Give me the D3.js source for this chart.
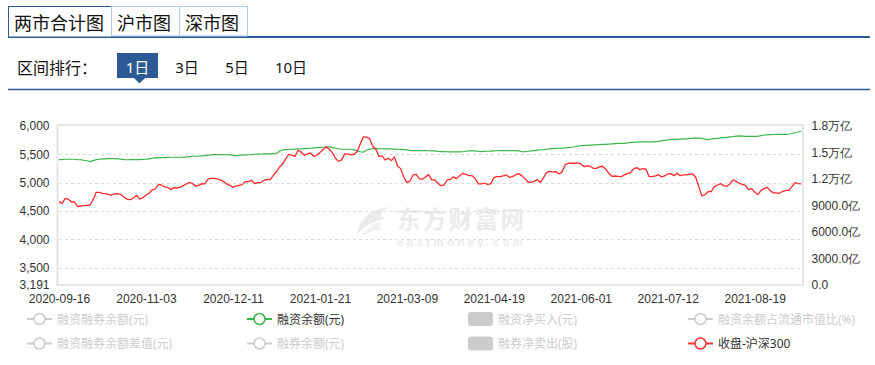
<!DOCTYPE html>
<html><head><meta charset="utf-8">
<script src="https://cdn.jsdelivr.net/npm/d3@7"></script>
<style>
html,body{margin:0;padding:0;background:#fff;}
svg{display:block;font-family:"Noto Sans","Noto Sans CJK SC",sans-serif;}
</style></head><body>
<svg id="c" width="875" height="365"></svg>
<script>
// ---------- data ----------
const tabs = ["两市合计图", "沪市图", "深市图"];
const rangeLabel = "区间排行：";
const rangeButtons = ["1日", "3日", "5日", "10日"];
const startDate = "2020-09-16";
const endDate = "2021-09-09";
const holidays = ["2020-10-01","2020-10-02","2020-10-05","2020-10-06","2020-10-07","2020-10-08",
  "2021-01-01","2021-02-11","2021-02-12","2021-02-15","2021-02-16","2021-02-17",
  "2021-04-05","2021-05-03","2021-05-04","2021-05-05","2021-06-14"];
const xTickEvery = 28;

// 收盘-沪深300 (left axis)
const closeHS300 = [
4663,4634,4722,4704,4657,4657,4575,4586,4592,4598,
4604,4698,4828,4828,4811,4805,4787,4781,4799,4805,
4787,4740,4704,4698,4728,4775,4710,4734,4781,4811,
4870,4887,4970,4958,4923,4917,4876,4911,4905,4917,
4946,4976,5005,4982,4940,4952,4982,4976,5064,5076,
5076,5064,5047,5017,4976,4952,4917,4940,4952,4964,
5017,5017,5041,4982,5000,5000,5041,5058,5052,5129,
5188,5271,5330,5418,5501,5483,5465,5572,5536,5483,
5507,5525,5465,5483,5530,5584,5631,5590,5530,5430,
5377,5401,5507,5507,5489,5501,5548,5684,5808,5802,
5778,5648,5590,5465,5471,5401,5430,5389,5454,5294,
5247,5094,4999,5029,5135,5147,5070,5058,5100,5141,
5047,5047,4988,4946,4958,5047,5058,5100,5070,5123,
5165,5147,5123,5123,5070,4976,4976,4993,4970,4976,
5088,5106,5106,5117,5135,5094,5106,5135,5159,5123,
5070,5011,5005,5023,5052,5005,5088,5182,5200,5188,
5194,5153,5194,5318,5342,5342,5342,5347,5330,5283,
5294,5289,5253,5253,5277,5289,5241,5165,5111,5117,
5111,5106,5135,5159,5177,5241,5265,5230,5247,5236,
5106,5106,5117,5141,5100,5117,5153,5159,5123,5165,
5123,5135,5135,5147,5153,5094,4929,4763,4787,4840,
4840,4929,4958,4982,4946,4935,4976,5047,5023,4988,
4970,4952,4876,4893,4834,4787,4858,4893,4917,4858,
4817,4817,4811,4846,4864,4864,4929,5000,4982,4976
];

// 融资余额 (亿, right axis)
const marginBalance = [
14200,14200,14237,14237,14237,14237,14200,14181,14125,14068,
13974,14087,14200,14237,14275,14275,14313,14313,14313,14275,
14256,14200,14181,14200,14200,14200,14200,14218,14237,14275,
14350,14388,14426,14426,14426,14444,14463,14463,14463,14463,
14482,14501,14538,14576,14576,14576,14614,14651,14708,14726,
14764,14764,14764,14764,14745,14726,14670,14651,14689,14708,
14726,14745,14764,14801,14813,14828,14839,14839,14839,14839,
14914,15140,15291,15328,15366,15366,15385,15404,15422,15441,
15460,15479,15516,15554,15573,15592,15629,15629,15554,15479,
15422,15385,15366,15366,15366,15291,15216,15084,15027,15253,
15366,15441,15460,15441,15422,15404,15404,15404,15385,15366,
15347,15328,15291,15234,15216,15216,15216,15216,15216,15197,
15178,15178,15121,15103,15103,15084,15065,15065,15065,15065,
15084,15140,15178,15178,15178,15140,15103,15121,15140,15159,
15178,15197,15216,15216,15216,15216,15216,15216,15178,15084,
15103,15140,15178,15216,15272,15310,15328,15366,15404,15441,
15460,15479,15498,15516,15554,15592,15648,15723,15761,15798,
15817,15836,15855,15874,15893,15911,15930,15949,15968,16005,
16043,16043,16043,16081,16137,16156,16175,16193,16212,16212,
16193,16193,16231,16269,16325,16382,16438,16494,16494,16494,
16513,16532,16551,16589,16607,16645,16626,16589,16494,16457,
16532,16570,16607,16645,16683,16720,16758,16796,16852,16871,
16852,16833,16833,16833,16833,16833,16908,16984,17002,17021,
17040,17059,17059,17059,17059,17096,17153,17266,17322,17435
];

const leftTicks = [6000, 5500, 5000, 4500, 4000, 3500, 3191];
const leftDomain = [3191, 6000];
const rightTicks = [0, 3000, 6000, 9000, 12000, 15000, 18000];
const rightDomain = [0, 18000];

const legendItems = [
  {name: "融资融券余额(元)", type: "line", on: false},
  {name: "融资余额(元)", type: "line", on: true, color: "#3bb54a"},
  {name: "融资净买入(元)", type: "bar", on: false},
  {name: "融资余额占流通市值比(%)", type: "line", on: false},
  {name: "融资融券余额差值(元)", type: "line", on: false},
  {name: "融券余额(元)", type: "line", on: false},
  {name: "融券净卖出(股)", type: "bar", on: false},
  {name: "收盘-沪深300", type: "line", on: true, color: "#ff3333"}
];

// ---------- build categories (trading days) ----------
const hol = new Set(holidays);
const dates = [];
for (let d = new Date(startDate + "T00:00:00Z"); d <= new Date(endDate + "T00:00:00Z"); d.setUTCDate(d.getUTCDate() + 1)) {
  const wd = d.getUTCDay();
  const s = d.toISOString().slice(0, 10);
  if (wd === 0 || wd === 6 || hol.has(s)) continue;
  dates.push(s);
}

// ---------- drawing ----------
const svg = d3.select("#c");
const NAVY = "#2c5a94";

// tabs
svg.append("line").attr("x1", 8).attr("x2", 870).attr("y1", 37).attr("y2", 37)
  .attr("stroke", NAVY).attr("stroke-width", 2);
const tabX = [8.5, 111.5, 179.5], tabW = [103, 68, 68];
tabs.forEach((t, i) => {
  svg.append("rect").attr("x", tabX[i]).attr("y", 6.5).attr("width", tabW[i]).attr("height", i === 0 ? 30.5 : 29.5)
    .attr("fill", "#fff").attr("stroke", i === 0 ? NAVY : "#a9cce9").attr("stroke-width", 1);
  svg.append("text").attr("x", tabX[i] + 5.5).attr("y", 22).attr("dominant-baseline", "central")
    .attr("font-family", "'Noto Sans CJK SC'").attr("font-size", 18).attr("fill", "#111").text(t);
});

// range row
svg.append("text").attr("x", 17).attr("y", 67).attr("dominant-baseline", "central")
  .attr("font-family", "'Noto Sans CJK SC'").attr("font-size", 16).attr("fill", "#111").text(rangeLabel);
const btnCx = [137.5, 187, 237, 291];
svg.append("rect").attr("x", 117).attr("y", 53).attr("width", 41).attr("height", 25).attr("fill", NAVY);
svg.append("path").attr("d", "M134,78L145,78L139.5,83.5Z").attr("fill", NAVY);
rangeButtons.forEach((b, i) => {
  svg.append("text").attr("x", btnCx[i]).attr("y", 67).attr("text-anchor", "middle").attr("dominant-baseline", "central")
    .attr("font-size", 15).attr("fill", i === 0 ? "#fff" : "#111").text(b);
});
svg.append("line").attr("x1", 8).attr("x2", 870).attr("y1", 89.5).attr("y2", 89.5)
  .attr("stroke", NAVY).attr("stroke-width", 1.5);

// scales
const x = d3.scalePoint().domain(dates).range([59, 801.3]);
const yL = d3.scaleLinear().domain(leftDomain).range([285, 126]);
const yR = d3.scaleLinear().domain(rightDomain).range([285, 126]);

// watermark
const wm = svg.append("g").attr("fill", "#ebebeb");
wm.append("path").attr("d", "M389,207C372,209 358,220 357,235C364,226 372,221 385,219C378,216 381,211 389,207Z");
wm.append("path").attr("d", "M383,221C374,223 366,228 362,236C369,232 375,230 382,230C378,228 379,224 383,221Z").attr("fill", "#f0f0f0");
wm.append("text").attr("x", 397).attr("y", 228).attr("font-weight", "bold")
  .attr("font-family", "'Noto Sans CJK SC'").attr("font-size", 23.5).attr("textLength", 127).text("东方财富网");
wm.append("text").attr("x", 397).attr("y", 245.5).attr("font-weight", "bold")
  .attr("font-family", "'Liberation Sans'").attr("font-size", 11.5).attr("textLength", 126).text("eastmoney.com");

// gridlines
svg.append("g").selectAll("line").data(leftTicks.filter(v => v !== leftDomain[0] && v !== leftDomain[1]))
  .join("line").attr("x1", 59).attr("x2", 802).attr("y1", d => Math.round(yL(d)) + 0.5).attr("y2", d => Math.round(yL(d)) + 0.5)
  .attr("stroke", "#dcdcdc").attr("stroke-dasharray", "3,3");

// border
svg.append("rect").attr("x", 57.5).attr("y", 125).attr("width", 745.5).attr("height", 160)
  .attr("fill", "none").attr("stroke", "#e5e5e5").attr("stroke-width", 2);

// axes
const axisStyle = g => {
  g.select(".domain").remove();
  g.selectAll("text").attr("fill", "#333").attr("font-size", 12);
};
svg.append("g").attr("transform", "translate(58.5,0)")
  .call(d3.axisLeft(yL).tickValues(leftTicks).tickSize(0).tickPadding(9).tickFormat(d3.format(",")))
  .call(axisStyle);
const fmtR = v => v === 0 ? "0.0" : (v >= 10000 ? (v / 10000).toFixed(1) + "万亿" : v.toFixed(1) + "亿");
svg.append("g").attr("transform", "translate(801.5,0)")
  .call(d3.axisRight(yR).tickValues(rightTicks).tickSize(0).tickPadding(10).tickFormat(fmtR))
  .call(axisStyle);
svg.append("g").attr("transform", "translate(0,285)")
  .call(d3.axisBottom(x).tickValues(dates.filter((d, i) => i % xTickEvery === 0)).tickSize(0).tickPadding(9))
  .call(axisStyle);

// lines
const n = Math.min(dates.length, closeHS300.length);
svg.append("path").datum(marginBalance.slice(0, n))
  .attr("d", d3.line().x((d, i) => x(dates[i])).y(d => yR(d)))
  .attr("fill", "none").attr("stroke", "#3bb54a").attr("stroke-width", 1.2).attr("stroke-linejoin", "round");
svg.append("path").datum(closeHS300.slice(0, n))
  .attr("d", d3.line().x((d, i) => x(dates[i])).y(d => yL(d)))
  .attr("fill", "none").attr("stroke", "#ff2a2a").attr("stroke-width", 1.3).attr("stroke-linejoin", "round");

// legend
const colX = [27, 247, 468, 688], rowY = [319, 343.5];
legendItems.forEach((it, k) => {
  const cx = colX[k % 4], cy = rowY[Math.floor(k / 4)];
  const col = it.on ? it.color : "#ccc";
  const g = svg.append("g");
  if (it.type === "line") {
    g.append("line").attr("x1", cx).attr("x2", cx + 25).attr("y1", cy).attr("y2", cy).attr("stroke", col).attr("stroke-width", 2);
    g.append("circle").attr("cx", cx + 12.5).attr("cy", cy).attr("r", 5.5).attr("fill", "#fff").attr("stroke", col).attr("stroke-width", 1.5);
  } else {
    g.append("rect").attr("x", cx).attr("y", cy - 7).attr("width", 25).attr("height", 14).attr("rx", 3).attr("fill", col);
  }
  g.append("text").attr("x", cx + 30).attr("y", cy).attr("dominant-baseline", "central")
    .attr("font-size", 12).attr("fill", it.on ? "#333" : "#ccc").text(it.name);
});
</script>
</body></html>
